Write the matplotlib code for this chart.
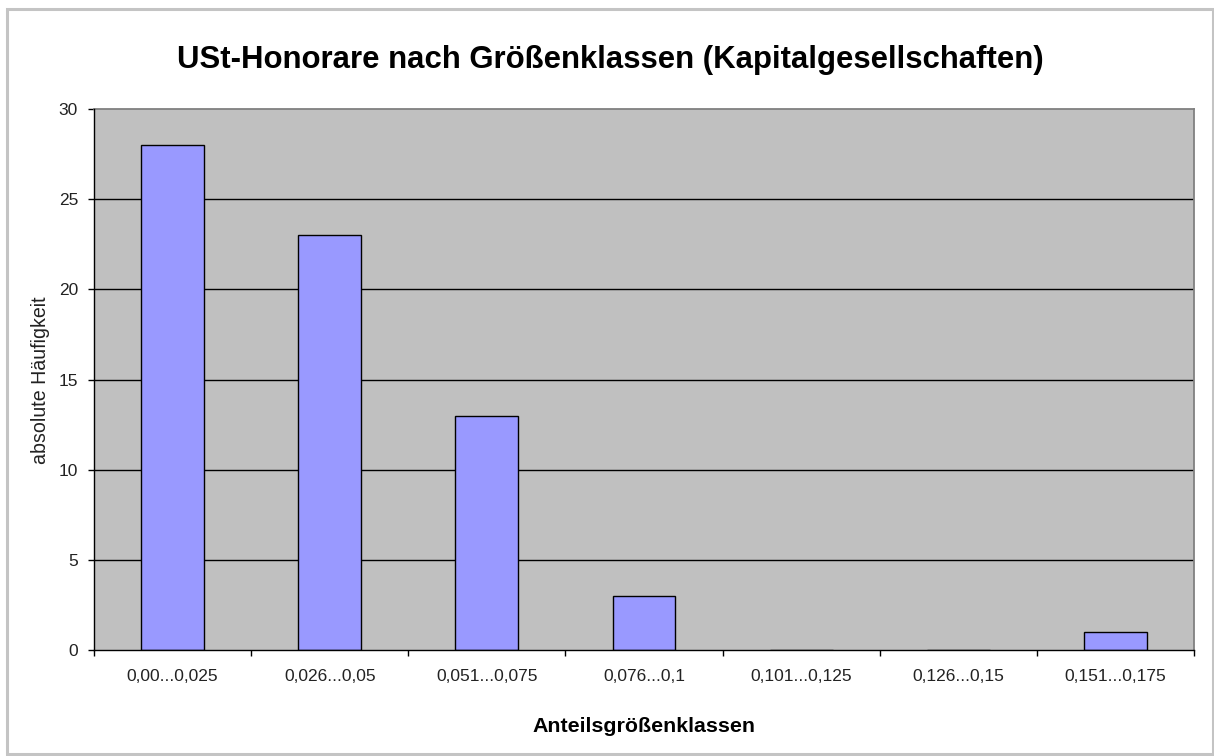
import matplotlib
matplotlib.use("Agg")
import matplotlib.pyplot as plt
from matplotlib.patches import Rectangle

categories = ["0,00...0,025", "0,026...0,05", "0,051...0,075", "0,076...0,1",
              "0,101...0,125", "0,126...0,15", "0,151...0,175"]
counts = [28, 23, 13, 3, 0, 0, 1]
y_ticks = [0, 5, 10, 15, 20, 25, 30]

plt.rcParams['font.family'] = ['Liberation Sans', 'DejaVu Sans']

W, H = 1214, 756
fig = plt.figure(figsize=(W / 100, H / 100), dpi=100)
fig.patch.set_facecolor('white')


def fx(px):
    return px / W


def fy(py):
    return 1 - py / H


# outer frame
fig.add_artist(Rectangle((fx(6.5), fy(753.5)), fx(1212.5) - fx(6.5), fy(9) - fy(753.5),
                         transform=fig.transFigure, fill=False, edgecolor='#C4C4C4',
                         linewidth=2.2))

ax = fig.add_axes([fx(94), fy(650), fx(1194) - fx(94), fy(109) - fy(650)])
ax.set_facecolor('#C0C0C0')
x = list(range(len(categories)))
ax.bar(x, counts, width=0.4, color='#9999FF', edgecolor='black', linewidth=1, zorder=3)
ax.set_xlim(-0.5, len(categories) - 0.5)
ax.set_ylim(0, 30)
ax.set_yticks(y_ticks)
ax.set_yticklabels([str(v) for v in y_ticks], fontsize=12, color='#222222')
ax.set_xticks(x)
ax.set_xticklabels(categories, fontsize=12, color='#222222')
ax.tick_params(axis='x', which='major', length=0, pad=14)
ax.set_xticks([i - 0.5 for i in range(len(categories) + 1)], minor=True)
ax.tick_params(axis='x', which='minor', length=4.5, width=1, direction='out', color='black')
ax.tick_params(axis='y', length=4.5, width=1, direction='out', color='black', pad=7)
for v in y_ticks[1:-1]:
    ax.axhline(v, color='black', linewidth=1, zorder=1)
for s in ['top', 'right']:
    ax.spines[s].set_color('#808080')
    ax.spines[s].set_linewidth(1.3)
for s in ['left', 'bottom']:
    ax.spines[s].set_color('black')
    ax.spines[s].set_linewidth(1)
ax.spines['left'].set_zorder(4)
ax.spines['bottom'].set_zorder(4)

title = fig.text(fx(610), fy(68), "USt-Honorare nach Größenklassen (Kapitalgesellschaften)",
                 ha='center', va='baseline', fontsize=21, fontweight='bold')
ylab = fig.text(fx(41), fy(380), "absolute Häufigkeit", rotation=90, ha='center', va='center',
                fontsize=12, color='#222222')
xlab = fig.text(fx(644), fy(732), "Anteilsgrößenklassen", ha='center', va='baseline',
                fontsize=14, fontweight='bold')

renderer = fig.canvas.get_renderer()


def fit(t, target, vertical=False):
    bb = t.get_window_extent(renderer)
    cur = bb.height if vertical else bb.width
    t.set_fontsize(t.get_fontsize() * target / cur)


fit(title, 865)
fit(xlab, 223)
fit(ylab, 168, vertical=True)
xl = ax.get_xticklabels()
bb = xl[0].get_window_extent(renderer)
xs = 12 * 91 / bb.width
for t in xl:
    t.set_fontsize(xs)
for t in ax.get_yticklabels():
    t.set_fontsize(xs)

fig.savefig("out.png", dpi=100)
